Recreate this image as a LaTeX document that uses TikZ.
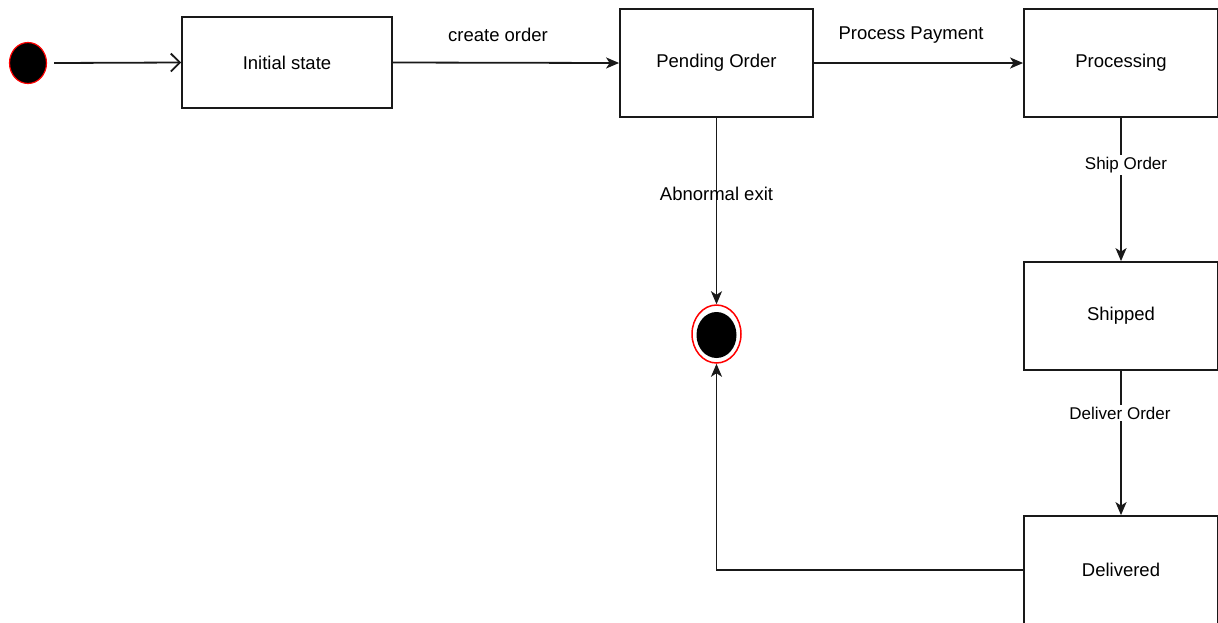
\documentclass[tikz,border=0pt]{standalone}
\usepackage{fontspec}
\setmainfont{Liberation Sans}
\usetikzlibrary{arrows.meta,shapes.geometric}
\begin{document}
\begin{tikzpicture}[x=1pt,y=-1pt,
  statebox/.style={draw=black!90,line width=1.8pt,fill=white,minimum width=#1,inner sep=0pt,font=\fontsize{18.5}{22}\selectfont},
  flow/.style={draw=black!90,line width=1.8pt,-{Stealth[length=13pt,width=11pt,inset=3.5pt]}},
  openflow/.style={draw=black!90,line width=1.8pt,-{Straight Barb[length=9pt,width=18pt,line width=1.8pt]}},
  biglabel/.style={font=\fontsize{18.5}{22}\selectfont,inner sep=1pt},
  smalllabel/.style={font=\fontsize{17}{20}\selectfont,fill=white,inner sep=2pt}]
\useasboundingbox (0,0) rectangle (1218,622);
\clip (0,0) rectangle (1218,622);

% start and final pseudo-states
\node[ellipse,draw=red,line width=1.2pt,fill=black,minimum width=37pt,minimum height=41pt,inner sep=0pt] (start) at (28,63) {};
\node[ellipse,draw=red,line width=1.5pt,fill=white,minimum width=49pt,minimum height=58pt,inner sep=0pt] (final) at (716.5,334) {};
\node[ellipse,fill=black,minimum width=40pt,minimum height=46pt,inner sep=0pt] (finalcore) at (716.5,335) {};

% states
\node[statebox=210pt,minimum height=91pt] (init) at (287,62.5) {Initial state};
\node[statebox=193pt,minimum height=108pt] (pending) at (716.5,63) {Pending Order};
\node[statebox=194pt,minimum height=108pt] (processing) at (1121,63) {Processing};
\node[statebox=194pt,minimum height=108pt] (shipped) at (1121,316) {Shipped};
\node[statebox=194pt,minimum height=108pt] (delivered) at (1121,570) {Delivered};

% transitions
\draw[openflow] (start.east) ++(7,0) coordinate (s0) -- (init.west);
\draw[flow] (init.east) -- (pending.west);
\node[biglabel] (createlbl) at (498,35) {create order};
\draw[flow] (pending.east) -- (processing.west);
\node[biglabel] (paylbl) at (911,35) {Process Payment};
\draw[flow] (processing.south) -- (shipped.north);
\node[smalllabel] (shiplbl) at (1126,165) {Ship Order};
\draw[flow] (shipped.south) -- (delivered.north);
\node[smalllabel] (delivlbl) at (1120,413) {Deliver Order};
\draw[flow] (pending.south) -- (final.north);
\node[biglabel] (abnlbl) at (716.5,194) {Abnormal exit};
\draw[flow] (delivered.west) -| (final.south);
\end{tikzpicture}
\end{document}
